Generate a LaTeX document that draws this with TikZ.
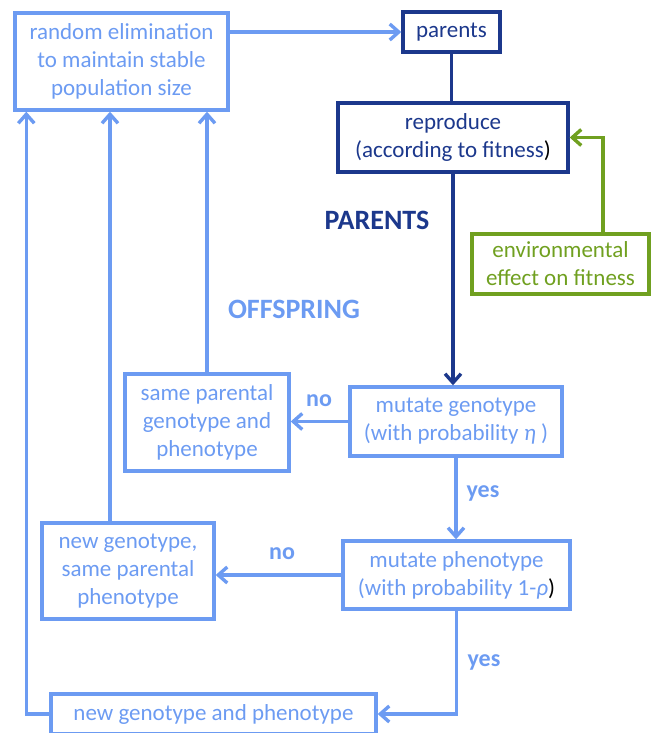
\documentclass[tikz,border=0pt]{standalone}
\usepackage{fontspec}
\setmainfont{Carlito}
\usetikzlibrary{arrows.meta}
\definecolor{lightblue}{RGB}{108,155,242}
\definecolor{darkblue}{RGB}{28,56,140}
\definecolor{envgreen}{RGB}{112,160,32}
\tikzset{
  box/.style={draw, line width=1.7pt, align=center, inner sep=0pt,
    font=\fontsize{11.5}{14}\selectfont},
  lightbox/.style={box, draw=lightblue, text=lightblue},
  darkbox/.style={box, draw=darkblue, text=darkblue},
  greenbox/.style={box, draw=envgreen, text=envgreen},
  arr/.style={-{Straight Barb[length=4.5pt,width=8pt]}, line width=1.7pt},
  lbl/.style={font=\fontsize{12}{14}\selectfont\bfseries, text=lightblue},
  heading/.style={font=\fontsize{14}{16}\selectfont\bfseries}
}
\begin{document}
\begin{tikzpicture}[x=0.5pt, y=-0.5pt]
  \useasboundingbox (0,0) rectangle (654,733);
  % boxes
  \node[lightbox, minimum width=106.5pt, minimum height=48.5pt] (elim) at (121.5,61.5) {random elimination\\to maintain stable\\population size};
  \node[darkbox, minimum width=48.5pt, minimum height=20pt] (parents) at (451.5,32) {parents};
  \node[darkbox, minimum width=115pt, minimum height=34.5pt] (reproduce) at (453,137.5) {reproduce\\(according to fitness{\color{black})}};
  \node[greenbox, minimum width=88.5pt, minimum height=30pt] (env) at (560.5,264) {environmental\\effect on fitness};
  \node[lightbox, minimum width=106pt, minimum height=34.5pt] (mutgen) at (456,421.5) {mutate genotype\\(with probability \textit{η} )};
  \node[lightbox, minimum width=82pt, minimum height=48.5pt] (same) at (207,422.5) {same parental\\genotype and\\phenotype};
  \node[lightbox, minimum width=113.5pt, minimum height=34pt] (mutphen) at (456.5,575) {mutate phenotype\\(with probability 1-\textit{ρ}{\color{black})}};
  \node[lightbox, minimum width=86pt, minimum height=48pt] (newsame) at (128,571) {new genotype,\\same parental\\phenotype};
  \node[lightbox, minimum width=162.5pt, minimum height=20pt] (newboth) at (213.5,714) {new genotype and phenotype};
  % labels
  \node[heading, text=darkblue] (parlbl) at (377,220) {PARENTS};
  \node[heading, text=lightblue] (offlbl) at (294,309) {OFFSPRING};
  \node[lbl] (no1) at (319,401) {no};
  \node[lbl] (no2) at (282,554) {no};
  \node[lbl] (yes1) at (483,493) {yes};
  \node[lbl] (yes2) at (484,662) {yes};
  % connectors
  \draw[arr, lightblue] (elim.east |- parents.west) -- (parents.west);
  \draw[line width=1.7pt, darkblue] (parents.south) -- (parents.south |- reproduce.north);
  \draw[arr, darkblue] (reproduce.south) -- (reproduce.south |- mutgen.north);
  \draw[arr, envgreen] ([xshift=21.25pt]env.north) |- (reproduce.east);
  \draw[arr, lightblue] (mutgen.west) -- (mutgen.west -| same.east);
  \draw[arr, lightblue] (mutgen.south) -- (mutgen.south |- mutphen.north);
  \draw[arr, lightblue] (mutphen.west) -- (mutphen.west -| newsame.east);
  \draw[arr, lightblue] (mutphen.south) |- (newboth.east);
  \draw[arr, lightblue] (same.north) -- (same.north |- elim.south);
  \coordinate (upmid) at ([xshift=-9pt]newsame.north);
  \draw[arr, lightblue] (upmid) -- (upmid |- elim.south);
  \coordinate (upleft) at ([xshift=6.5pt]elim.south west);
  \draw[arr, lightblue] (newboth.west) -| (upleft);
\end{tikzpicture}
\end{document}
